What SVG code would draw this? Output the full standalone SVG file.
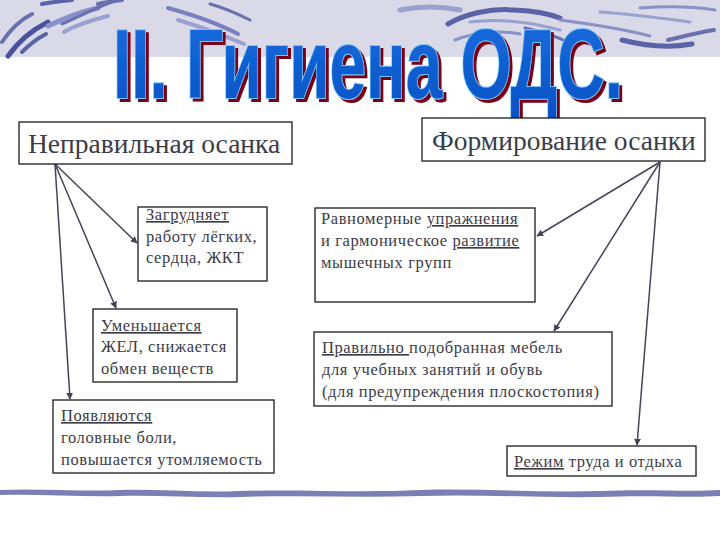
<svg xmlns="http://www.w3.org/2000/svg" width="720" height="540" viewBox="0 0 720 540">
<style>
.box{fill:#fff;stroke:#1a1a1a;stroke-width:1.3}
.big{font-size:27.5px;fill:#3c3c48}
.sm{font-size:16.5px;letter-spacing:0.6px;fill:#3c3c48}
.u{text-decoration:underline}
.conn{stroke:#45455a;stroke-width:1.5;fill:none;marker-end:url(#ah)}
.sw{fill:none;stroke-linecap:round}
</style>
<defs>
<marker id="ah" viewBox="0 0 10 10" refX="9" refY="5" markerWidth="7" markerHeight="7" orient="auto" markerUnits="userSpaceOnUse">
<path d="M0,0 L10,5 L0,10 z" fill="#45455a"/>
</marker>
<linearGradient id="tg" x1="0" y1="0" x2="0" y2="1">
<stop offset="0" stop-color="#1a6ee0"/>
<stop offset="1" stop-color="#0652c4"/>
</linearGradient>
<filter id="shadow" x="-5%" y="-10%" width="110%" height="130%">
<feOffset in="SourceAlpha" dx="3" dy="3" result="o"/>
<feFlood flood-color="#7a0018"/>
<feComposite in2="o" operator="in" result="s"/>
<feMerge><feMergeNode in="s"/><feMergeNode in="SourceGraphic"/></feMerge>
</filter>
</defs>
<rect width="720" height="540" fill="#fff"/>
<g id="background">
<rect x="0" y="0" width="720" height="57" fill="#d9d9e8"/>
<path class="sw" d="M2,42 C10,30 20,20 32,14" stroke="#6870b0" stroke-width="4"/>
<path class="sw" d="M8,56 C18,42 32,30 48,22" stroke="#4a52a0" stroke-width="5"/>
<path class="sw" d="M22,52 C30,44 38,38 46,34" stroke="#5a62a8" stroke-width="4"/>
<path class="sw" d="M48,26 C65,18 80,12 98,8" stroke="#8a90c8" stroke-width="5"/>
<path class="sw" d="M62,24 C80,16 95,8 112,2" stroke="#6870b0" stroke-width="3"/>
<path class="sw" d="M42,4 C52,2 62,1 72,0" stroke="#5a62a8" stroke-width="4"/>
<path class="sw" d="M64,32 C78,24 92,20 108,16" stroke="#9aa0d0" stroke-width="4"/>
<path class="sw" d="M98,4 C106,2 114,1 122,0" stroke="#6870b0" stroke-width="4"/>
<path class="sw" d="M168,8 C190,14 215,22 238,34" stroke="#7a80bf" stroke-width="4"/>
<path class="sw" d="M178,20 C198,26 220,34 244,44" stroke="#9aa0d0" stroke-width="4"/>
<path class="sw" d="M210,4 C225,8 238,14 250,20" stroke="#6870b0" stroke-width="3"/>
<path class="sw" d="M448,24 C465,14 490,8 515,10 C535,11 550,14 560,18" stroke="#5a62a8" stroke-width="5"/>
<path class="sw" d="M400,10 C420,6 440,6 460,10" stroke="#9aa0d0" stroke-width="5"/>
<path class="sw" d="M470,22 C500,18 530,22 560,30" stroke="#9aa0d0" stroke-width="3"/>
<path class="sw" d="M455,40 C475,32 500,30 520,34" stroke="#8a90c8" stroke-width="3"/>
<path class="sw" d="M560,20 C590,24 620,28 650,36" stroke="#8a90c8" stroke-width="3"/>
<path class="sw" d="M525,28 C545,32 560,38 572,44" stroke="#6870b0" stroke-width="3"/>
<path class="sw" d="M622,40 C645,46 670,48 692,44" stroke="#5a62a8" stroke-width="5"/>
<path class="sw" d="M668,40 C685,36 700,32 714,30" stroke="#6870b0" stroke-width="4"/>
<path class="sw" d="M600,12 C630,14 660,18 690,22" stroke="#9aa0d0" stroke-width="3"/>
<path class="sw" d="M640,8 C665,6 690,6 715,10" stroke="#8a90c8" stroke-width="3"/>
<path d="M0,490 C40,488 80,492 120,490 C160,489 200,493 240,491 C300,489 360,493 420,490 C480,488 540,493 600,491 C650,489 690,492 720,490 L720,496 C690,498 650,495 600,497 C540,498 480,494 420,496 C360,498 300,495 240,497 C200,498 160,495 120,496 C80,497 40,494 0,495 z" fill="#7a7fb5"/>
</g>
<g id="title" filter="url(#shadow)">
<text x="113" y="98" font-family="Liberation Sans,Arial,sans-serif" font-weight="bold" font-size="98" textLength="510" lengthAdjust="spacingAndGlyphs" fill="url(#tg)" stroke="#7cc4f8" stroke-width="2" paint-order="stroke">II. Гигиена ОДС.</text>
</g>
<g id="connectors">
<line class="conn" x1="55" y1="164" x2="137" y2="243"/>
<line class="conn" x1="55" y1="164" x2="116" y2="308"/>
<line class="conn" x1="55" y1="164" x2="70" y2="399"/>
<line class="conn" x1="660" y1="162" x2="537" y2="236"/>
<line class="conn" x1="660" y1="162" x2="554" y2="331"/>
<line class="conn" x1="660" y1="162" x2="637" y2="445"/>
</g>
<g font-family="'Liberation Serif','Times New Roman',serif">
<g id="n-wrong">
<rect class="box" x="19" y="122" width="273" height="42"/>
<text class="big" x="28" y="153">Неправильная осанка</text>
</g>
<g id="n-form">
<rect class="box" x="422" y="118" width="283" height="43"/>
<text class="big" x="432" y="150">Формирование осанки</text>
</g>
<g id="n-lungs">
<rect class="box" x="138" y="207" width="129" height="74"/>
<text class="sm" x="146" y="220"><tspan class="u">Загрудняет</tspan></text>
<text class="sm" x="146" y="242">работу лёгких,</text>
<text class="sm" x="146" y="263">сердца, ЖКТ</text>
</g>
<g id="n-zhel">
<rect class="box" x="93" y="309" width="144" height="73"/>
<text class="sm" x="101" y="331"><tspan class="u">Уменьшается</tspan></text>
<text class="sm" x="101" y="352">ЖЕЛ, снижается</text>
<text class="sm" x="101" y="374">обмен веществ</text>
</g>
<g id="n-head">
<rect class="box" x="53" y="400" width="221" height="73"/>
<text class="sm" x="61" y="421"><tspan class="u">Появляются</tspan></text>
<text class="sm" x="61" y="443">головные боли,</text>
<text class="sm" x="61" y="465">повышается утомляемость</text>
</g>
<g id="n-exercise">
<rect class="box" x="315" y="208" width="220" height="94"/>
<text class="sm" x="321" y="224">Равномерные <tspan class="u">упражнения</tspan></text>
<text class="sm" x="321" y="246">и гармоническое <tspan class="u">развитие</tspan></text>
<text class="sm" x="321" y="268">мышечных групп</text>
</g>
<g id="n-furniture">
<rect class="box" x="314" y="332" width="298" height="74"/>
<text class="sm" x="322" y="353"><tspan class="u">Правильно </tspan>подобранная мебель</text>
<text class="sm" x="322" y="375">для учебных занятий и обувь</text>
<text class="sm" x="322" y="397">(для предупреждения плоскостопия)</text>
</g>
<g id="n-regime">
<rect class="box" x="507" y="446" width="189" height="30"/>
<text class="sm" x="514" y="467"><tspan class="u">Режим</tspan> труда и отдыха</text>
</g>
</g>
</svg>
